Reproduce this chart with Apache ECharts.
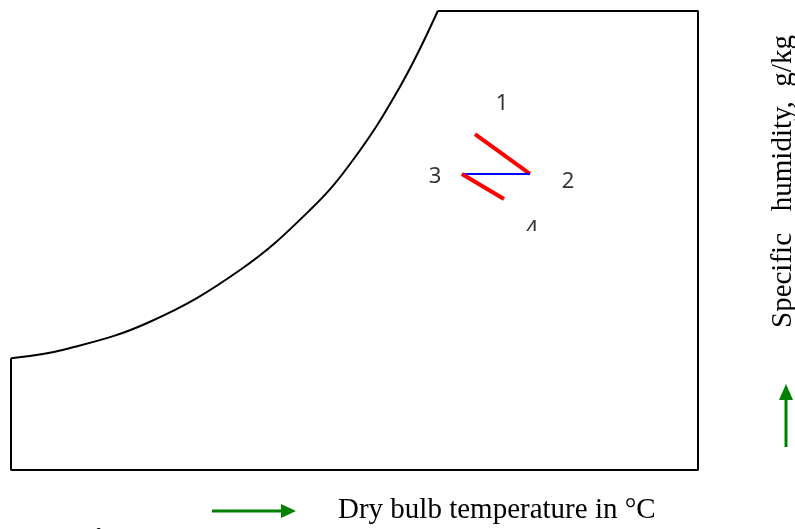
<!DOCTYPE html>
<html>
<head>
<meta charset="UTF-8">
<title>Psychrometric process</title>
<script src="https://cdn.jsdelivr.net/npm/echarts@6/dist/echarts.min.js"></script>
<style>
  html, body { margin: 0; padding: 0; background: #fff; }
  #main { width: 795px; height: 529px; }
</style>
</head>
<body>
<div id="main"></div>
<script type="text/javascript">
// saturation curve (dry bulb temp, specific humidity)
var satTemp = [0, 4.05, 10.12, 16.67, 21.76, 24.89, 28.31, 31.06];
var satHum  = [7.30, 7.91, 9.69, 13.07, 16.99, 20.26, 25.05, 30];

// rest of the chart boundary
var boxTemp = [31.06, 50, 50, 0, 0];
var boxHum  = [30, 30, 0, 0, 7.30];

// process state points
var stateNames = ['1', '2', '3', '4'];
var stateTemp  = [33.77, 37.77, 32.82, 35.88];
var stateHum   = [21.96, 19.35, 19.35, 17.71];

var xTitle = 'Dry bulb temperature in \u00b0C';
var yTitle = 'Specific   humidity,  g/kg';

function pts(xs, ys) {
  var out = [];
  for (var i = 0; i < xs.length; i++) out.push([xs[i], ys[i]]);
  return out;
}
function seg(a, b) {
  return [[stateTemp[a], stateHum[a]], [stateTemp[b], stateHum[b]]];
}

// label offsets for each state point (style only)
var labelOffsets = [[27, -30], [38, 8], [-27, 3], [28, 31]];
var stateData = [];
for (var i = 0; i < stateNames.length; i++) {
  stateData.push({
    value: [stateTemp[i], stateHum[i]],
    name: stateNames[i],
    label: { offset: labelOffsets[i] }
  });
}

var myChart = echarts.init(document.getElementById('main'));
var option = {
  animation: false,
  grid: { left: 11, right: 97, top: 11, bottom: 59 },
  xAxis: { type: 'value', min: 0, max: 50, show: false },
  yAxis: { type: 'value', min: 0, max: 30, show: false },
  series: [
    {
      type: 'line', data: pts(satTemp, satHum), smooth: 0.4, symbol: 'none',
      lineStyle: { color: '#000', width: 2 }, clip: false
    },
    {
      type: 'line', data: pts(boxTemp, boxHum), symbol: 'none',
      lineStyle: { color: '#000', width: 2 }, clip: false
    },
    {
      type: 'line', data: seg(0, 1), symbol: 'none',
      lineStyle: { color: '#ff0000', width: 4 }
    },
    {
      type: 'line', data: seg(1, 2), symbol: 'none',
      lineStyle: { color: '#0000ff', width: 2 }
    },
    {
      type: 'line', data: seg(2, 3), symbol: 'none',
      lineStyle: { color: '#ff0000', width: 4 }
    },
    {
      type: 'scatter', data: stateData, symbolSize: 0, z: 5,
      label: {
        show: true, position: 'inside', formatter: '{b}',
        fontFamily: 'Noto Sans', fontSize: 22, color: '#000', textBorderWidth: 0
      }
    }
  ],
  graphic: [
    // clip the lower part of label 4 as in the source
    { type: 'rect', shape: { x: 518, y: 231, width: 30, height: 18 }, style: { fill: '#fff' }, z: 100 },
    // x direction arrow
    { type: 'line', shape: { x1: 212, y1: 511, x2: 284, y2: 511 }, style: { stroke: '#008000', lineWidth: 3 } },
    { type: 'polygon', shape: { points: [[281, 504], [296, 511], [281, 518]] }, style: { fill: '#008000' } },
    {
      type: 'text', left: 338, top: 496,
      style: { text: xTitle, font: '29px "Liberation Serif", serif', fill: '#000' }
    },
    // y direction arrow
    { type: 'line', shape: { x1: 786, y1: 447, x2: 786, y2: 398 }, style: { stroke: '#008000', lineWidth: 3 } },
    { type: 'polygon', shape: { points: [[779, 400], [786, 384], [793, 400]] }, style: { fill: '#008000' } },
    {
      type: 'text', x: 769, y: 328, rotation: Math.PI / 2,
      style: { text: yTitle, font: '29px "Liberation Serif", serif', fill: '#000', verticalAlign: 'top' }
    },
    // clipped caption at the bottom edge
    {
      type: 'text', x: 10, y: 526.5,
      style: { text: 'dehumidification', font: '22px "Liberation Serif", serif', fill: '#000', verticalAlign: 'top' }
    }
  ]
};
myChart.setOption(option);
</script>
</body>
</html>
